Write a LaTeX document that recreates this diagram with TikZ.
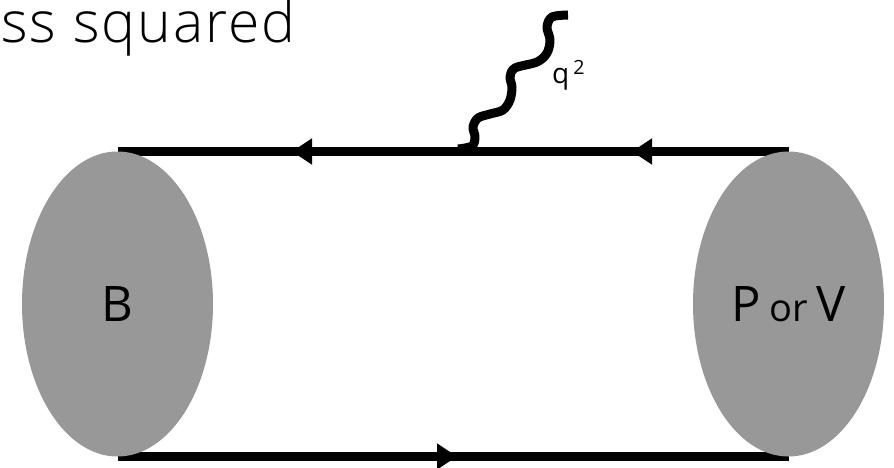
\documentclass[tikz,border=0pt]{standalone}
\usepackage{fontspec}
\setmainfont{Open Sans}
\newfontfamily\thinfont[LetterSpace=3.5]{Open Sans Light}
\usetikzlibrary{shapes.geometric,arrows.meta,decorations.markings}
\definecolor{blobgray}{RGB}{152,152,152}
\tikzset{
  meson/.style={ellipse, fill=blobgray, draw=none, inner sep=0pt,
    minimum width=191pt, minimum height=305pt},
  quark/.style={line width=9pt, black, postaction={decorate}},
  photon/.style={line width=9pt, black, line join=round}
}
\newcommand{\quarktip}{\arrow{Triangle[length=20pt,width=25pt]}}
\begin{document}
\begin{tikzpicture}[x=1pt, y=-1pt]
\useasboundingbox (0,0) rectangle (894,468);
% heading, cut at the left edge
\node[anchor=base west, inner sep=0pt, font=\thinfont\fontsize{57}{64}\selectfont]
  (title) at (1,43) {ss squared};
% meson centres and the points where the quark lines meet them
\coordinate (Bc) at (117.5,304);
\coordinate (PVc) at (788.5,304);
\coordinate (Btop) at (117.5,151.5);
\coordinate (PVtop) at (788.5,151.5);
\coordinate (Bbot) at (117.5,456.5);
\coordinate (PVbot) at (788.5,456.5);
% quark lines
\draw[quark, decoration={markings,
    mark=at position 156.5pt with {\quarktip},
    mark=at position 496.5pt with {\quarktip}}]
  (PVtop) -- (Btop);
\draw[quark, decoration={markings,
    mark=at position 339.5pt with {\quarktip}}]
  (Bbot) -- (PVbot);
% photon emitted from the upper line
\coordinate (vtx) at (458,149);
\coordinate (pend) at (568,15);
\draw[photon] plot[smooth, tension=0.55] coordinates {
  (vtx) (472,146) (475,137) (473,127) (478,118) (490,114) (503,110) (510,100)
  (512,87) (510,77) (515,68) (537,62) (547,53) (550,40) (547,27) (552,17) (pend)};
\node[anchor=base west, inner sep=0pt, font=\fontsize{28}{32}\selectfont]
  (qlab) at (552,84) {q\kern4pt\textsuperscript{2}};
% blobs drawn over the line ends
\node[meson] (B) at (Bc) {\fontsize{49}{56}\selectfont B};
\node[meson] (PV) at (PVc) {\fontsize{49}{56}\selectfont P\kern9pt{\fontsize{38}{44}\selectfont or}\kern8pt V};
\end{tikzpicture}
\end{document}
